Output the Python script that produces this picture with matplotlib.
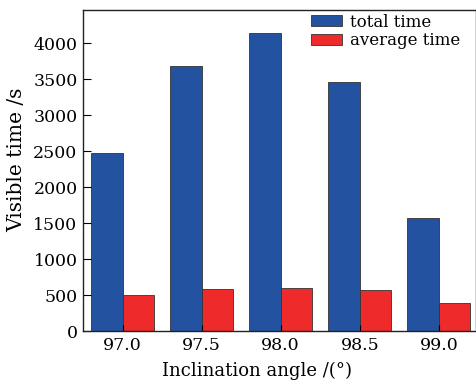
import matplotlib
matplotlib.use("Agg")
import matplotlib.pyplot as plt
import numpy as np

categories = ["97.0", "97.5", "98.0", "98.5", "99.0"]
total_time = [2480, 3686, 4140, 3453, 1567]
average_time = [496, 580, 594, 575, 394]
yticks = [0, 500, 1000, 1500, 2000, 2500, 3000, 3500, 4000]

plt.rcParams['font.family'] = 'serif'
plt.rcParams['font.serif'] = ['DejaVu Serif']
plt.rcParams['mathtext.fontset'] = 'dejavuserif'

fig = plt.figure(figsize=(4.76, 3.83), dpi=100)
ax = fig.add_axes([83/476, 52/383, 393/476, 321/383])

x = np.arange(len(categories))
w = 0.4
ax.bar(x - w/2, total_time, w, color='#2352a0', edgecolor='#333333', linewidth=0.6, label='total time')
ax.bar(x + w/2, average_time, w, color='#ee2a2a', edgecolor='#333333', linewidth=0.6, label='average time')

ax.set_xlim(-0.5, 4.47)
ax.set_ylim(0, 4460)
ax.set_xticks(x)
ax.set_xticklabels(categories)
ax.set_yticks(yticks)
ax.set_yticklabels([str(v) for v in yticks])
ax.tick_params(direction='in', labelsize=12.5, length=6, width=0.8, pad=4)
ax.tick_params(axis='x', length=4)
for s in ax.spines.values():
    s.set_linewidth(1.0)
    s.set_color('#222222')

ax.set_xlabel('Inclination angle /(°)', fontsize=13)
ax.xaxis.set_label_coords(0.443, -0.095)
ax.set_ylabel('Visible time /s', fontsize=14.5)
ax.yaxis.set_label_coords(-0.145, 0.533)

ax.legend(loc='upper right', bbox_to_anchor=(0.985, 1.02), frameon=False, fontsize=12,
          handlelength=1.9, handleheight=0.65, handletextpad=0.45, labelspacing=0.1,
          borderaxespad=0.2)

fig.savefig('out.png', dpi=100)
